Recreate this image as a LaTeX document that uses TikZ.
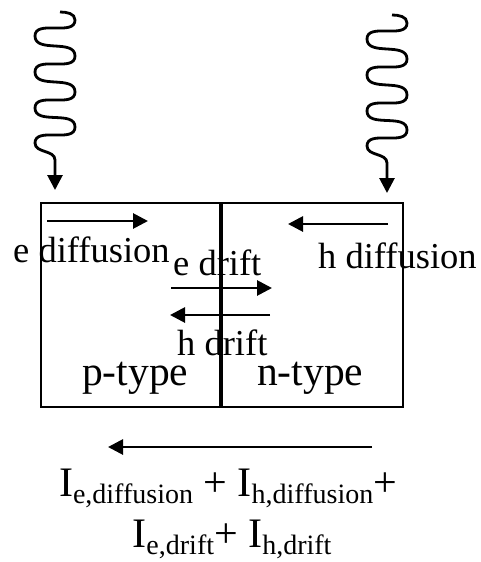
\documentclass[tikz,border=0pt]{standalone}
\usepackage{fontspec}
\setmainfont{Liberation Serif}
\usetikzlibrary{arrows.meta}

% subscript of the current formula
\newcommand{\cursub}[1]{\raisebox{-7pt}{\fontsize{28}{30}\selectfont #1}}

% wavy light ray coming down onto the junction
\newcommand{\lightwave}[2]{%
  \draw[wave] (#1+5,#2-8) to[out=0,in=90] (#1+20,#2)
    to[out=-90,in=90] (#1-20,#2+16)
    to[out=-90,in=90] (#1+20,#2+36)
    to[out=-90,in=90] (#1-20,#2+52)
    to[out=-90,in=90] (#1+20,#2+72)
    to[out=-90,in=90] (#1-20,#2+88)
    to[out=-90,in=90] (#1+20,#2+107)
    to[out=-90,in=90] (#1-20,#2+123)
    to[out=-90,in=90] (#1,#2+140) -- (#1,#2+170);}

\begin{document}
\begin{tikzpicture}[x=1pt,y=-1pt,
  flowarrow/.style={-{Triangle[length=15pt,width=15pt]}, line width=2.8pt},
  wave/.style={-{Triangle[length=15pt,width=15pt]}, line width=2.8pt},
  txt/.style={anchor=base west, inner sep=0pt, font=\fontsize{36.5}{40}\selectfont},
  bigtxt/.style={anchor=base, inner sep=0pt, font=\fontsize{42}{45}\selectfont}]
    \useasboundingbox (0,0) rectangle (480,562);

    % Light coming in from above
    \lightwave{55}{20}
    \lightwave{387}{23}

    % The junction: box and the dividing line
    \draw[line width=2.6pt] (41,203) rectangle (403,407);
    \draw[line width=4pt] (221,203) -- (221,407);

    % Diffusion arrows
    \coordinate (ediffA) at (47,221);
    \coordinate (ediffB) at (148,221);
    \coordinate (hdiffA) at (388,224);
    \coordinate (hdiffB) at (288,224);
    \draw[flowarrow] (ediffA) -- (ediffB);
    \draw[flowarrow] (hdiffA) -- (hdiffB);

    % Drift arrows
    \coordinate (edriftA) at (171,288);
    \coordinate (edriftB) at (272,288);
    \coordinate (hdriftA) at (270,315);
    \coordinate (hdriftB) at (170,315);
    \draw[flowarrow] (edriftA) -- (edriftB);
    \draw[flowarrow] (hdriftA) -- (hdriftB);

    % Labels
    \node[txt] (ediff) at (13,262) {e diffusion};
    \node[txt] (edrift) at (173,275) {e drift};
    \node[txt] (hdiff) at (318,268) {h diffusion};
    \node[txt] (hdrift) at (177,355) {h drift};
    \node[txt, font=\fontsize{41.5}{45}\selectfont] (ptype) at (82,385) {p-type};
    \node[txt, font=\fontsize{41.5}{45}\selectfont] (ntype) at (257,385) {n-type};

    % Total current
    \coordinate (totA) at (372,447);
    \coordinate (totB) at (108,447);
    \draw[flowarrow] (totA) -- (totB);
    \node[bigtxt] (sumA) at (228,496) {I\cursub{e,diffusion} + I\cursub{h,diffusion}+};
    \node[bigtxt] (sumB) at (232,547) {I\cursub{e,drift}+ I\cursub{h,drift}};
\end{tikzpicture}
\end{document}
